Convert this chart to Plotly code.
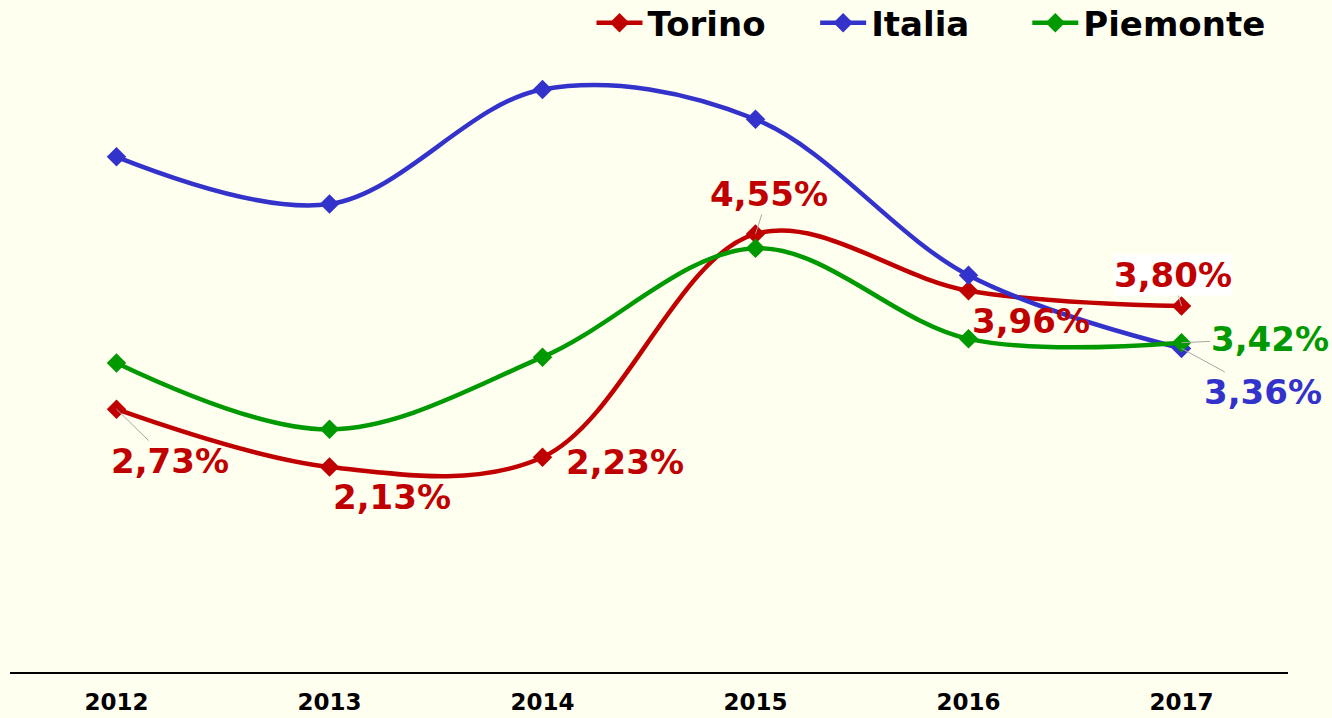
import plotly.graph_objects as go

years = ["2012", "2013", "2014", "2015", "2016", "2017"]
torino = [2.73, 2.13, 2.23, 4.55, 3.96, 3.80]
italia = [5.35, 4.86, 6.05, 5.74, 4.12, 3.36]
piemonte = [3.21, 2.52, 3.27, 4.40, 3.46, 3.42]

RED = "#C00000"
BLUE = "#3333CC"
GREEN = "#009900"
BG = "#FFFFF0"
FONT = "DejaVu Sans"

series = [("Torino", torino, RED, "legend"),
          ("Italia", italia, BLUE, "legend2"),
          ("Piemonte", piemonte, GREEN, "legend3")]

fig = go.Figure()
for name, vals, col, lg in series:
    fig.add_trace(go.Scatter(
        x=years, y=vals, name=name, mode="lines+markers", legend=lg,
        line=dict(color=col, width=4.5, shape="spline", smoothing=1.0),
        marker=dict(symbol="diamond", size=15, color=col),
    ))

def fmt(v):
    return f"{v:.2f}".replace(".", ",") + "%"

# (series values, color, index, ax, ay, leader line?, bg)
labels = [
    (torino, RED, 0, 53, 52, True, None),
    (torino, RED, 1, 62, 30, False, None),
    (torino, RED, 2, 82, 5, False, None),
    (torino, RED, 3, 13, -40, True, None),
    (torino, RED, 4, 62, 30, False, None),
    (torino, RED, 5, -9, -31, True, "white"),
    (piemonte, GREEN, 5, 88, -4, True, None),
    (italia, BLUE, 5, 81, 44, True, None),
]
for vals, col, i, ax, ay, line, bg in labels:
    fig.add_annotation(
        x=i, y=vals[i], xref="x", yref="y",
        text=fmt(vals[i]), showarrow=True, ax=ax, ay=ay,
        arrowhead=0, arrowwidth=1,
        arrowcolor="#A6A6A6" if line else "rgba(0,0,0,0)",
        font=dict(family=FONT, size=34, color=col, weight="bold"),
        bgcolor=bg if bg else "rgba(0,0,0,0)",
        borderpad=0,
    )

def legend_style(xpos):
    return dict(
        orientation="h", x=xpos, xanchor="left", y=0.98, yanchor="middle",
        font=dict(family=FONT, size=34, color="black", weight="bold"),
        bgcolor="rgba(0,0,0,0)", itemwidth=46,
    )

fig.update_layout(
    width=1332, height=718,
    paper_bgcolor=BG, plot_bgcolor=BG,
    margin=dict(l=10, r=44, t=10, b=46, autoexpand=False),
    showlegend=True,
    legend=legend_style(0.455),
    legend2=legend_style(0.630),
    legend3=legend_style(0.796),
    xaxis=dict(
        type="category", range=[-0.5, 5.5], showgrid=False, zeroline=False,
        showline=True, linecolor="black", linewidth=2, ticks="",
        tickfont=dict(family=FONT, size=23, color="black", weight="bold"),
        ticklabelstandoff=8,
    ),
    yaxis=dict(range=[0, 6.875], visible=False, showgrid=False, zeroline=False),
)

fig.write_html("out.html", config={"displayModeBar": False},
               post_script="document.body.style.margin='0';")
